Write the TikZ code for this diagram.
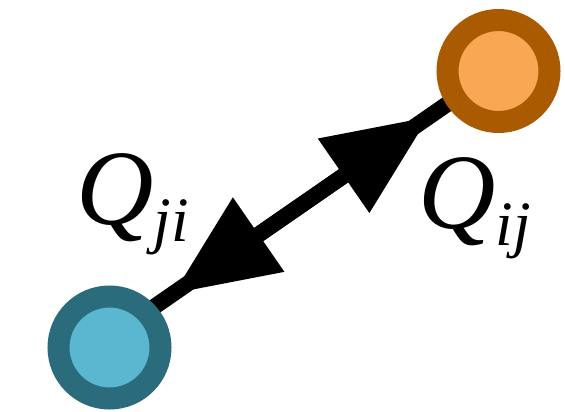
\documentclass[tikz,border=0pt]{standalone}
\usepackage{fontspec}
\setmainfont{Liberation Serif}
\usetikzlibrary{arrows.meta,calc}
\definecolor{tealring}{HTML}{2A6B7C}
\definecolor{tealfill}{HTML}{5BB7CF}
\definecolor{orangering}{HTML}{AA5A00}
\definecolor{orangefill}{HTML}{F9A752}
\newcommand\qrate[1]{\itshape Q\raisebox{-0.34cm}{\fontsize{36}{40}\selectfont #1}}
\begin{document}
\begin{tikzpicture}[
  site/.style={circle, inner sep=0pt, minimum size=2.04cm, line width=0.44cm},
  flow/.style={line width=0.32cm},
  head/.tip={Triangle[length=2.08cm,width=1.72cm]},
  rate/.style={font=\fontsize{61}{66}\selectfont, anchor=base west, inner sep=0pt}
]
\useasboundingbox (0,0) rectangle (11.3,8.22);
\coordinate (pa) at (2.19,1.27);
\coordinate (pb) at (9.97,6.80);
% connector sits a little above the centre line
\coordinate (ea) at ($(pa)!0.16cm!90:(pb)$);
\coordinate (eb) at ($(pb)!0.04cm!-90:(pa)$);
\draw[flow] (ea) -- (eb);
\draw[flow, {head}-{head}, shorten <=1.66cm, shorten >=1.66cm] (ea) -- (eb);
\node[site, draw=tealring, fill=tealfill] (i) at (pa) {};
\node[site, draw=orangering, fill=orangefill] (j) at (pb) {};
\node[rate] (qji) at (1.52,3.74) {\qrate{ji}};
\node[rate] (qij) at (8.36,3.66) {\qrate{ij}};
\end{tikzpicture}
\end{document}
